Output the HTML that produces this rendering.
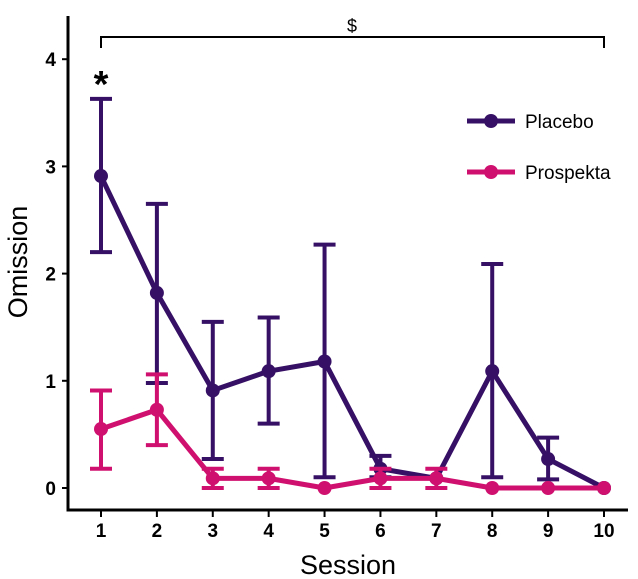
<!DOCTYPE html>
<html><head><meta charset="utf-8"><style>
body{margin:0;background:#fff;}
svg{display:block;font-family:"Liberation Sans",Arial,sans-serif;}
</style></head><body>
<svg id="chart" width="638" height="579" viewBox="0 0 638 579"></svg>
<script>
const sessions=[1,2,3,4,5,6,7,8,9,10];
const yTicks=[0,1,2,3,4];
const placeboMean=[2.91,1.82,0.91,1.09,1.18,0.18,0.09,1.09,0.27,0];
const placeboUpper=[3.63,2.65,1.55,1.59,2.27,0.30,0.09,2.09,0.47,0];
const placeboLower=[2.20,0.98,0.27,0.60,0.10,0.10,0.09,0.10,0.08,0];
const prospMean=[0.55,0.73,0.09,0.09,0,0.09,0.09,0,0,0];
const prospUpper=[0.91,1.06,0.18,0.18,0,0.18,0.18,0,0,0];
const prospLower=[0.18,0.40,0,0,0,0,0,0,0,0];
const NS='http://www.w3.org/2000/svg';
const svg=document.getElementById('chart');
const xS=s=>101+(s-1)*(604-101)/9;
const yS=v=>488-v*107.2;
function mk(tag,attrs,parent){const e=document.createElementNS(NS,tag);for(const k in attrs)e.setAttribute(k,attrs[k]);(parent||svg).appendChild(e);return e;}
// axes
let ax=mk('path',{d:'M68,16 V510 H628',fill:'none',stroke:'#000','stroke-width':3});


yTicks.forEach(t=>{
 let l=mk('line',{x1:62,x2:68,y1:yS(t),y2:yS(t),stroke:'#000','stroke-width':2});
 
 
 let tx=mk('text',{x:56,y:yS(t)+7,'text-anchor':'end','font-size':19,'font-weight':'bold'});
 tx.textContent=t;
 
 
});
sessions.forEach(s=>{
 let l=mk('line',{x1:xS(s),x2:xS(s),y1:510,y2:517,stroke:'#000','stroke-width':2});
 
 
 let tx=mk('text',{x:xS(s),y:537,'text-anchor':'middle','font-size':19,'font-weight':'bold'});
 tx.textContent=s;
 
 
});
let xt=mk('text',{x:348,y:574,'text-anchor':'middle','font-size':27});
xt.textContent='Session';


let yt=mk('text',{x:0,y:0,'text-anchor':'middle','font-size':27,transform:'translate(27,262) rotate(-90)'});
yt.textContent='Omission';


// significance bracket
let br=mk('path',{d:`M${xS(1)},48 V37 H${xS(10)} V48`,fill:'none',stroke:'#000','stroke-width':2});


let dl=mk('text',{x:352,y:32,'text-anchor':'middle','font-size':18});
dl.textContent='$';


let st=mk('text',{x:xS(1),y:97,'text-anchor':'middle','font-size':38,'font-weight':'bold'});
st.textContent='*';


function series(name,color,mean,up,lo){
 const g=mk('g',{});
 
 
 sessions.forEach((s,i)=>{
  if(up[i]===lo[i])return;
  let e=mk('path',{d:`M${xS(s)-11},${yS(up[i])} H${xS(s)+11} M${xS(s)},${yS(up[i])} V${yS(lo[i])} M${xS(s)-11},${yS(lo[i])} H${xS(s)+11}`,fill:'none',stroke:color,'stroke-width':4},g);
  
  
 });
 let p=mk('polyline',{points:sessions.map((s,i)=>xS(s)+','+yS(mean[i])).join(' '),fill:'none',stroke:color,'stroke-width':5,'stroke-linejoin':'round'},g);
 
 
 sessions.forEach((s,i)=>{
  let c=mk('circle',{cx:xS(s),cy:yS(mean[i]),r:7,fill:color},g);
  
  
 });
}
series('placebo','#361065',placeboMean,placeboUpper,placeboLower);
series('prospekta','#d0106f',prospMean,prospUpper,prospLower);
// legend
[['Placebo','#361065',121],['Prospekta','#d0106f',172]].forEach(([n,c,y])=>{
 let g=mk('g',{});
 
 
 mk('line',{x1:467,x2:515,y1:y,y2:y,stroke:c,'stroke-width':5},g);
 mk('circle',{cx:491,cy:y,r:7,fill:c},g);
 let t=mk('text',{x:525,y:y+7,'font-size':19},g);
 t.textContent=n;
});
</script>
</body></html>
